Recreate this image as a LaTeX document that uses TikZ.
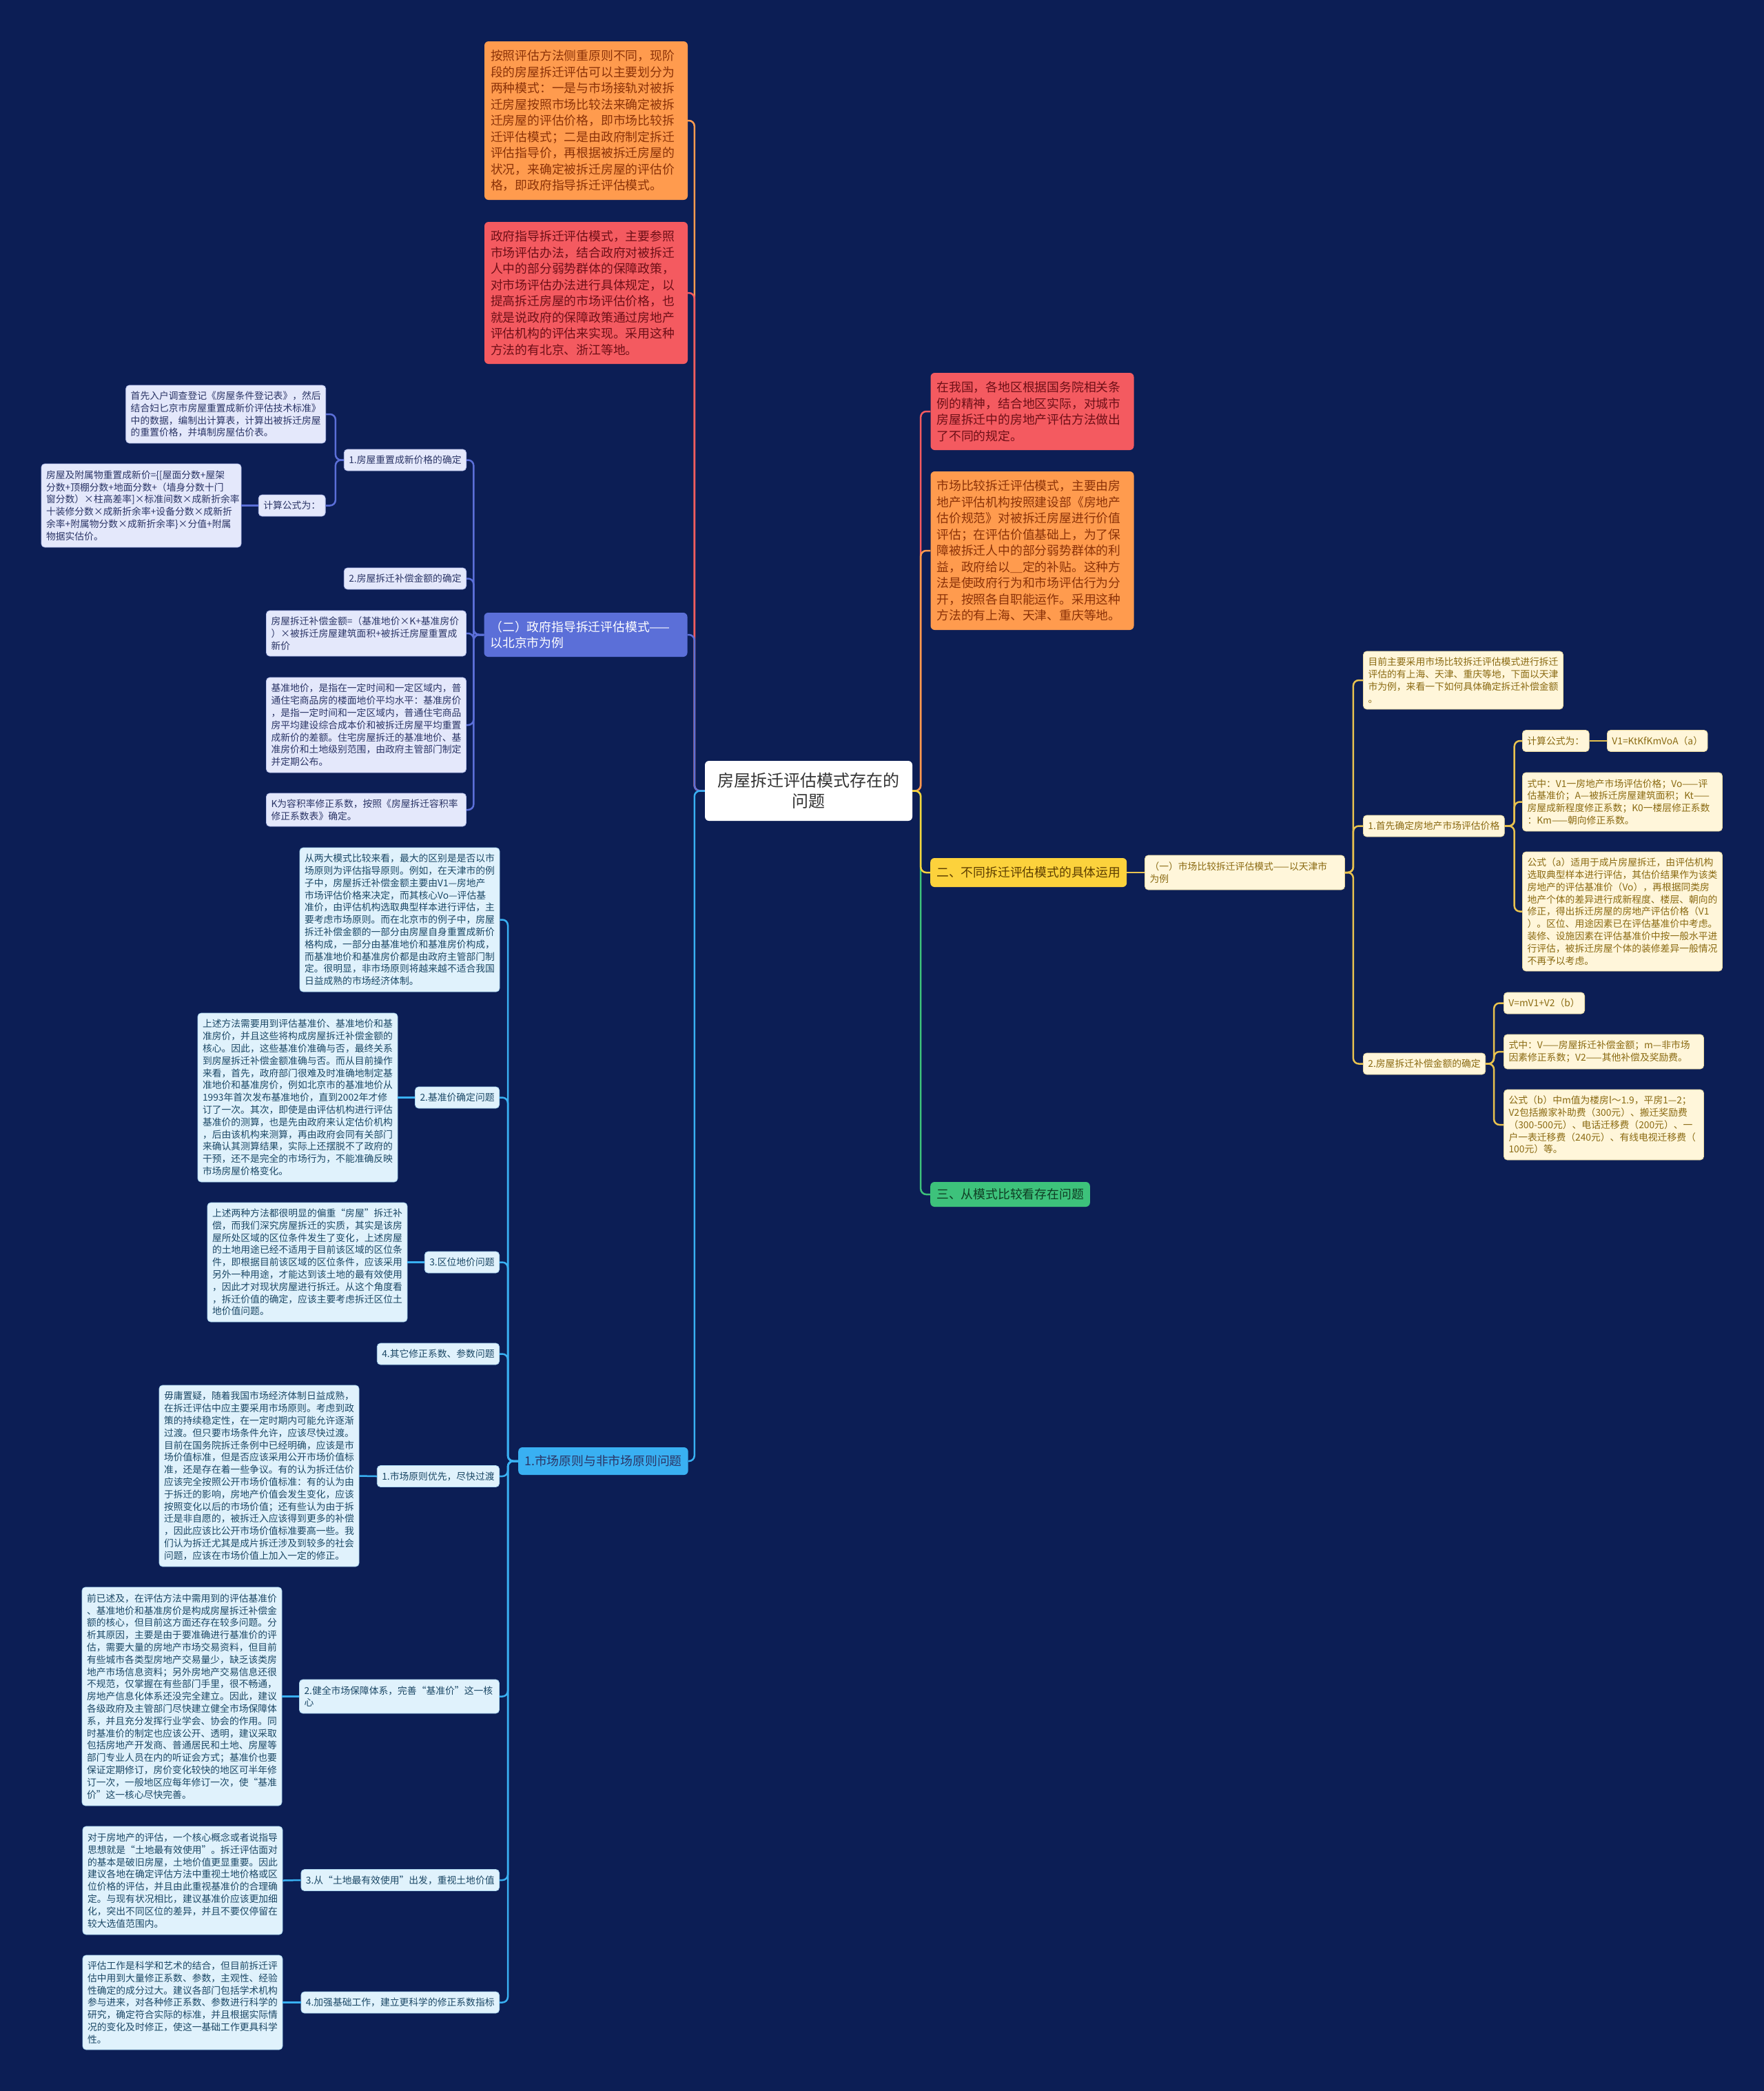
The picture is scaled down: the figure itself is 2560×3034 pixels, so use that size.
\documentclass[tikz,border=0pt]{standalone}
\usepackage{fontspec}
\setmainfont{Noto Sans CJK SC}

\definecolor{fondo}{HTML}{0C1E55}
\definecolor{naranja}{HTML}{FF9B4E}
\definecolor{naranjaTxt}{HTML}{8B3208}
\definecolor{rojo}{HTML}{F45A60}
\definecolor{rojoTxt}{HTML}{6E0F17}
\definecolor{lila}{HTML}{5B6FD8}
\definecolor{lilaClaro}{HTML}{E4E8FB}
\definecolor{lilaBorde}{HTML}{B9C2EE}
\definecolor{lilaTxt}{HTML}{2B3566}
\definecolor{amarillo}{HTML}{FCD23C}
\definecolor{amarilloTxt}{HTML}{5C3D00}
\definecolor{cremaClaro}{HTML}{FFF6DA}
\definecolor{cremaBorde}{HTML}{EAD9A0}
\definecolor{cremaTxt}{HTML}{8A6A12}
\definecolor{dorado}{HTML}{E8C24F}
\definecolor{verde}{HTML}{3DC27B}
\definecolor{verdeTxt}{HTML}{0F3D24}
\definecolor{celeste}{HTML}{39B0F2}
\definecolor{celesteClaro}{HTML}{E0F2FC}
\definecolor{celesteBorde}{HTML}{A9D6F0}
\definecolor{celesteTxt}{HTML}{1C4866}
\definecolor{txtCentral}{HTML}{333333}

\begin{document}
\begin{tikzpicture}[x=1pt, y=-1pt,
    caja/.style={rounded corners=6pt, inner xsep=9pt, inner ysep=5pt, align=left,
      text width=277pt, font=\fontsize{17.8pt}{23.5pt}\selectfont},
    titulo/.style={rounded corners=6pt, inner xsep=9pt, inner ysep=5pt,
      font=\fontsize{17.8pt}{23.5pt}\selectfont},
    detalle/.style={rounded corners=5pt, draw, line width=0.8pt, inner xsep=7pt, inner ysep=4pt,
      align=left, text width=276pt, font=\fontsize{13.8pt}{17.8pt}\selectfont},
    etiqueta/.style={rounded corners=5pt, draw, line width=0.8pt, inner xsep=7pt, inner ysep=4pt,
      minimum height=31pt, font=\fontsize{13.8pt}{17.8pt}\selectfont},
    hojaLila/.style={fill=lilaClaro, draw=lilaBorde, text=lilaTxt},
    hojaCrema/.style={fill=cremaClaro, draw=cremaBorde, text=cremaTxt},
    hojaCielo/.style={fill=celesteClaro, draw=celesteBorde, text=celesteTxt},
    rama/.style={line width=2.5pt, rounded corners=8pt}
  ]

  % Fondo
  \fill[fondo] (0,0) rectangle (2560,3034);
  \useasboundingbox (0,0) rectangle (2560,3034);

  % Nodo central
  \node[fill=white, rounded corners=6pt, minimum width=301pt, minimum height=87pt, text width=283pt,
    align=center, text=txtCentral, font=\fontsize{24pt}{30pt}\selectfont] (centro) at (1173.5,1147.5)
    {房屋拆迁评估模式存在的\\问题};

  % Lado izquierdo, arriba
  \node[caja, fill=naranja, text=naranjaTxt, minimum height=230pt] (modos) at (850.5,175)
    {按照评估方法侧重原则不同，现阶\\段的房屋拆迁评估可以主要划分为\\两种模式：一是与市场接轨对被拆\\迁房屋按照市场比较法来确定被拆\\迁房屋的评估价格，即市场比较拆\\迁评估模式；二是由政府制定拆迁\\评估指导价，再根据被拆迁房屋的\\状况，来确定被拆迁房屋的评估价\\格，即政府指导拆迁评估模式。};
  \node[caja, fill=rojo, text=rojoTxt, minimum height=206pt] (guiaGob) at (850.5,425)
    {政府指导拆迁评估模式，主要参照\\市场评估办法，结合政府对被拆迁\\人中的部分弱势群体的保障政策，\\对市场评估办法进行具体规定，以\\提高拆迁房屋的市场评估价格，也\\就是说政府的保障政策通过房地产\\评估机构的评估来实现。采用这种\\方法的有北京、浙江等地。};
  \node[caja, fill=lila, text=white, minimum height=64pt] (pekin) at (850,921)
    {（二）政府指导拆迁评估模式——\\以北京市为例};

  % Hijos de Pekín
  \node[etiqueta, hojaLila, anchor=east] (reposicion) at (677,667.5) {1.房屋重置成新价格的确定};
  \node[detalle, hojaLila, minimum height=84pt] (registro) at (327.7,601)
    {首先入户调查登记《房屋条件登记表》，然后\\结合妇匕京市房屋重置成新价评估技术标准》\\中的数据，编制出计算表，计算出被拆迁房屋\\的重置价格，并填制房屋估价表。};
  \node[etiqueta, hojaLila, anchor=east] (formulaTit) at (472.5,733.5) {计算公式为：};
  \node[detalle, hojaLila, minimum height=121pt] (formula) at (205,733.5)
    {房屋及附属物重置成新价=\{[屋面分数+屋架\\分数+顶棚分数+地面分数+（墙身分数十门\\窗分数）×柱高差率]×标准间数×成新折余率\\十装修分数×成新折余率+设备分数×成新折\\余率+附属物分数×成新折余率\}×分值+附属\\物据实估价。};
  \node[etiqueta, hojaLila, anchor=east] (compensa) at (677,839.5) {2.房屋拆迁补偿金额的确定};
  \node[detalle, hojaLila, minimum height=66pt] (montoPk) at (531.5,919)
    {房屋拆迁补偿金额=（基准地价×K+基准房价\\）×被拆迁房屋建筑面积+被拆迁房屋重置成\\新价};
  \node[detalle, hojaLila, minimum height=138pt] (baseSuelo) at (531.5,1052)
    {基准地价，是指在一定时间和一定区域内，普\\通住宅商品房的楼面地价平均水平：基准房价\\，是指一定时间和一定区域内，普通住宅商品\\房平均建设综合成本价和被拆迁房屋平均重置\\成新价的差额。住宅房屋拆迁的基准地价、基\\准房价和土地级别范围，由政府主管部门制定\\并定期公布。};
  \node[detalle, hojaLila, minimum height=48pt] (coefK) at (531.5,1175)
    {K为容积率修正系数，按照《房屋拆迁容积率\\修正系数表》确定。};

  % Lado derecho
  \node[caja, fill=rojo, text=rojoTxt, minimum height=112pt] (pais) at (1498,597)
    {在我国，各地区根据国务院相关条\\例的精神，结合地区实际，对城市\\房屋拆迁中的房地产评估方法做出\\了不同的规定。};
  \node[caja, fill=naranja, text=naranjaTxt, minimum height=230pt] (mercado) at (1498,799)
    {市场比较拆迁评估模式，主要由房\\地产评估机构按照建设部《房地产\\估价规范》对被拆迁房屋进行价值\\评估；在评估价值基础上，为了保\\障被拆迁人中的部分弱势群体的利\\益，政府给以＿定的补贴。这种方\\法是使政府行为和市场评估行为分\\开，按照各自职能运作。采用这种\\方法的有上海、天津、重庆等地。};
  \node[titulo, fill=amarillo, text=amarilloTxt, minimum height=42pt, anchor=west] (usos) at (1350,1266)
    {二、不同拆迁评估模式的具体运用};
  \node[titulo, fill=verde, text=verdeTxt, minimum height=36pt, anchor=west] (problemas) at (1350,1733)
    {三、从模式比较看存在问题};

  % Rama de Tianjin
  \node[detalle, hojaCrema, minimum height=50pt] (tianjin) at (1806.5,1266)
    {（一）市场比较拆迁评估模式——以天津市\\为例};
  \node[detalle, hojaCrema, minimum height=84pt] (ciudades) at (2123.5,987)
    {目前主要采用市场比较拆迁评估模式进行拆迁\\评估的有上海、天津、重庆等地，下面以天津\\市为例，来看一下如何具体确定拆迁补偿金额\\。};
  \node[etiqueta, hojaCrema, anchor=west] (precioMerc) at (1978,1198.5) {1.首先确定房地产市场评估价格};
  \node[etiqueta, hojaCrema, anchor=west] (calcTit) at (2209,1075) {计算公式为：};
  \node[etiqueta, hojaCrema, anchor=west] (calcV1) at (2332,1075) {V1=KtKfKmVoA（a）};
  \node[detalle, hojaCrema, minimum height=85pt] (leyendaA) at (2354.5,1163.5)
    {式中：V1一房地产市场评估价格；Vo——评\\估基准价；A—被拆迁房屋建筑面积；Kt——\\房屋成新程度修正系数；K0一楼层修正系数\\：Km——朝向修正系数。};
  \node[detalle, hojaCrema, minimum height=173pt] (notaA) at (2354.5,1322.5)
    {公式（a）适用于成片房屋拆迁，由评估机构\\选取典型样本进行评估，其估价结果作为该类\\房地产的评估基准价（Vo），再根据同类房\\地产个体的差异进行成新程度、楼层、朝向的\\修正，得出拆迁房屋的房地产评估价格（V1\\）。区位、用途因素已在评估基准价中考虑。\\装修、设施因素在评估基准价中按一般水平进\\行评估，被拆迁房屋个体的装修差异一般情况\\不再予以考虑。};
  \node[etiqueta, hojaCrema, anchor=west] (montoTj) at (1978,1543.5) {2.房屋拆迁补偿金额的确定};
  \node[etiqueta, hojaCrema, anchor=west] (calcV) at (2182,1455.5) {V=mV1+V2（b）};
  \node[detalle, hojaCrema, minimum height=50pt] (leyendaB) at (2327.5,1526)
    {式中：V——房屋拆迁补偿金额；m—非市场\\因素修正系数；V2——其他补偿及奖励费。};
  \node[detalle, hojaCrema, minimum height=102pt] (notaB) at (2327.5,1632)
    {公式（b）中m值为楼房l～1.9，平房1—2；\\V2包括搬家补助费（300元）、搬迁奖励费\\（300-500元）、电话迁移费（200元）、一\\户一表迁移费（240元）、有线电视迁移费（\\100元）等。};

  % Lado izquierdo, abajo
  \node[titulo, fill=celeste, text=lilaTxt, minimum height=40pt, anchor=west] (principio) at (752,2120)
    {1.市场原则与非市场原则问题};
  \node[detalle, hojaCielo, minimum height=209pt] (comparar) at (580,1334.5)
    {从两大模式比较来看，最大的区别是是否以市\\场原则为评估指导原则。例如，在天津市的例\\子中，房屋拆迁补偿金额主要由V1—房地产\\市场评估价格来决定，而其核心Vo—评估基\\准价，由评估机构选取典型样本进行评估，主\\要考虑市场原则。而在北京市的例子中，房屋\\拆迁补偿金额的一部分由房屋自身重置成新价\\格构成，一部分由基准地价和基准房价构成，\\而基准地价和基准房价都是由政府主管部门制\\定。很明显，非市场原则将越来越不适合我国\\日益成熟的市场经济体制。};
  \node[detalle, hojaCielo, minimum height=245pt] (baseTxt) at (432,1592.5)
    {上述方法需要用到评估基准价、基准地价和基\\准房价，并且这些将构成房屋拆迁补偿金额的\\核心。因此，这些基准价准确与否，最终关系\\到房屋拆迁补偿金额准确与否。而从目前操作\\来看，首先，政府部门很难及时准确地制定基\\准地价和基准房价，例如北京市的基准地价从\\1993年首次发布基准地价，直到2002年才修\\订了一次。其次，即使是由评估机构进行评估\\基准价的测算，也是先由政府来认定估价机构\\，后由该机构来测算，再由政府会同有关部门\\来确认其测算结果，实际上还摆脱不了政府的\\干预，还不是完全的市场行为，不能准确反映\\市场房屋价格变化。};
  \node[etiqueta, hojaCielo, anchor=east] (baseTit) at (725,1592.5) {2.基准价确定问题};
  \node[detalle, hojaCielo, minimum height=173pt] (zonaTxt) at (446,1831.5)
    {上述两种方法都很明显的偏重“房屋”拆迁补\\偿，而我们深究房屋拆迁的实质，其实是该房\\屋所处区域的区位条件发生了变化，上述房屋\\的土地用途已经不适用于目前该区域的区位条\\件，即根据目前该区域的区位条件，应该采用\\另外一种用途，才能达到该土地的最有效使用\\，因此才对现状房屋进行拆迁。从这个角度看\\，拆迁价值的确定，应该主要考虑拆迁区位土\\地价值问题。};
  \node[etiqueta, hojaCielo, anchor=east] (zonaTit) at (725,1831.5) {3.区位地价问题};
  \node[etiqueta, hojaCielo, anchor=east] (otrosTit) at (725,1964.5) {4.其它修正系数、参数问题};
  \node[detalle, hojaCielo, minimum height=263pt] (prioridadTxt) at (376,2141.5)
    {毋庸置疑，随着我国市场经济体制日益成熟，\\在拆迁评估中应主要采用市场原则。考虑到政\\策的持续稳定性，在一定时期内可能允许逐渐\\过渡。但只要市场条件允许，应该尽快过渡。\\目前在国务院拆迁条例中已经明确，应该是市\\场价值标准，但是否应该采用公开市场价值标\\准，还是存在着一些争议。有的认为拆迁估价\\应该完全按照公开市场价值标准：有的认为由\\于拆迁的影响，房地产价值会发生变化，应该\\按照变化以后的市场价值；还有些认为由于拆\\迁是非自愿的，被拆迁入应该得到更多的补偿\\，因此应该比公开市场价值标准要高一些。我\\们认为拆迁尤其是成片拆迁涉及到较多的社会\\问题，应该在市场价值上加入一定的修正。};
  \node[etiqueta, hojaCielo, anchor=east] (prioridadTit) at (725,2142) {1.市场原则优先，尽快过渡};
  \node[detalle, hojaCielo, minimum height=317pt] (garantiaTxt) at (264,2461.5)
    {前已述及，在评估方法中需用到的评估基准价\\、基准地价和基准房价是构成房屋拆迁补偿金\\额的核心，但目前这方面还存在较多问题。分\\析其原因，主要是由于要准确进行基准价的评\\估，需要大量的房地产市场交易资料，但目前\\有些城市各类型房地产交易量少，缺乏该类房\\地产市场信息资料；另外房地产交易信息还很\\不规范，仅掌握在有些部门手里，很不畅通，\\房地产信息化体系还没完全建立。因此，建议\\各级政府及主管部门尽快建立健全市场保障体\\系，并且充分发挥行业学会、协会的作用。同\\时基准价的制定也应该公开、透明，建议采取\\包括房地产开发商、普通居民和土地、房屋等\\部门专业人员在内的听证会方式；基准价也要\\保证定期修订，房价变化较快的地区可半年修\\订一次，一般地区应每年修订一次，使“基准\\价”这一核心尽快完善。};
  \node[detalle, hojaCielo, minimum height=49pt] (garantiaTit) at (579.5,2461.5)
    {2.健全市场保障体系，完善“基准价”这一核\\心};
  \node[detalle, hojaCielo, minimum height=157pt] (sueloTxt) at (265,2728.5)
    {对于房地产的评估，一个核心概念或者说指导\\思想就是“土地最有效使用”。拆迁评估面对\\的基本是破旧房屋，土地价值更显重要。因此\\建议各地在确定评估方法中重视土地价格或区\\位价格的评估，并且由此重视基准价的合理确\\定。与现有状况相比，建议基准价应该更加细\\化，突出不同区位的差异，并且不要仅停留在\\较大选值范围内。};
  \node[etiqueta, hojaCielo, anchor=east] (sueloTit) at (725,2728) {3.从“土地最有效使用”出发，重视土地价值};
  \node[detalle, hojaCielo, minimum height=137pt] (coefTxt) at (265,2905.5)
    {评估工作是科学和艺术的结合，但目前拆迁评\\估中用到大量修正系数、参数，主观性、经验\\性确定的成分过大。建议各部门包括学术机构\\参与进来，对各种修正系数、参数进行科学的\\研究，确定符合实际的标准，并且根据实际情\\况的变化及时修正，使这一基础工作更具科学\\性。};
  \node[etiqueta, hojaCielo, anchor=east] (coefTit) at (725,2905.5) {4.加强基础工作，建立更科学的修正系数指标};

  % Ramas del nodo central
  \draw[rama, naranja] (centro.west) -- ++(-15,0) |- (modos.east);
  \draw[rama, rojo] (centro.west) -- ++(-15,0) |- (guiaGob.east);
  \draw[rama, lila] (centro.west) -- ++(-15,0) |- (pekin.east);
  \draw[rama, celeste] (centro.west) -- ++(-15,0) |- (principio.east);
  \draw[rama, rojo] (centro.east) -- ++(12,0) |- (pais.west);
  \draw[rama, naranja] (centro.east) -- ++(12,0) |- (mercado.west);
  \draw[rama, verde] (centro.east) -- ++(12,0) |- (problemas.west);
  \draw[rama, amarillo] (centro.east) -- ++(12,0) |- (usos.west);

  % Subramas
  \foreach \hijo in {reposicion,compensa,montoPk,baseSuelo,coefK}
    \draw[rama, lila] (pekin.west) -- ++(-15,0) |- (\hijo.east);
  \foreach \hijo in {registro,formulaTit}
    \draw[rama, lila] (reposicion.west) -- ++(-12,0) |- (\hijo.east);
  \draw[rama, lila] (formulaTit.west) -- (formula.east);

  \draw[rama, dorado] (usos.east) -- (tianjin.west);
  \foreach \hijo in {ciudades,precioMerc,montoTj}
    \draw[rama, dorado] (tianjin.east) -- ++(12,0) |- (\hijo.west);
  \foreach \hijo in {calcTit,leyendaA,notaA}
    \draw[rama, dorado] (precioMerc.east) -- ++(14,0) |- (\hijo.west);
  \draw[rama, dorado] (calcTit.east) -- (calcV1.west);
  \foreach \hijo in {calcV,leyendaB,notaB}
    \draw[rama, dorado] (montoTj.east) -- ++(12,0) |- (\hijo.west);

  \foreach \hijo in {comparar,baseTit,zonaTit,otrosTit,prioridadTit,garantiaTit,sueloTit,coefTit}
    \draw[rama, celeste] (principio.west) -- ++(-15,0) |- (\hijo.east);
  \draw[rama, celeste] (baseTxt.east) -- (baseTit.west);
  \draw[rama, celeste] (zonaTxt.east) -- (zonaTit.west);
  \draw[rama, celeste] (prioridadTxt.east) -- (prioridadTit.west);
  \draw[rama, celeste] (garantiaTxt.east) -- (garantiaTit.west);
  \draw[rama, celeste] (sueloTxt.east) -- (sueloTit.west);
  \draw[rama, celeste] (coefTxt.east) -- (coefTit.west);

\end{tikzpicture}
\end{document}
